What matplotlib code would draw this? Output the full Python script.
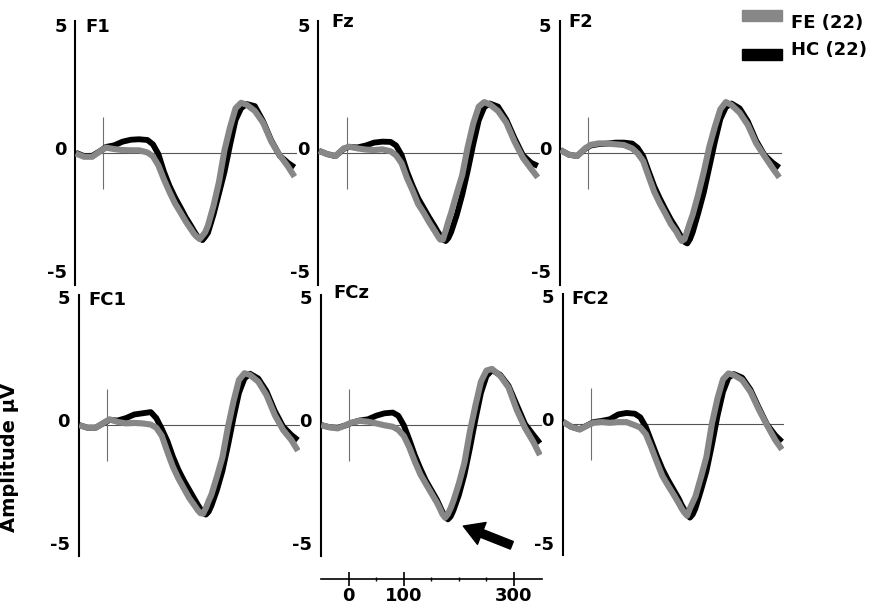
import matplotlib
matplotlib.use("Agg")
import matplotlib.pyplot as plt
from matplotlib.patches import Rectangle

plt.rcParams["font.family"] = ["DejaVu Sans"]
plt.rcParams["font.weight"] = "bold"

# ----------------------------
# DATA (amplitude in uV)
# ----------------------------
time_ms = [-50, -35, -20, -5, 5, 20, 35, 50, 65, 80, 90, 100, 110, 120, 130, 140, 150, 160,
           165, 170, 175, 180, 185, 190, 200, 210, 220, 230, 240, 250, 260, 275, 290, 305,
           320, 335, 347]

fe_f1 = [-0.03, -0.17, -0.17, 0.07, 0.21, 0.15, 0.11, 0.1, 0.1, 0.01, -0.15, -0.53, -1.11,
         -1.63, -2.11, -2.49, -2.88, -3.22, -3.39, -3.51, -3.6, -3.46, -3.31, -3.03, -2.21,
         -1.21, 0.11, 1.06, 1.85, 2.08, 2.0, 1.74, 1.25, 0.46, -0.1, -0.57, -1.0]
hc_f1 = [0.0, -0.14, -0.13, 0.08, 0.24, 0.31, 0.46, 0.54, 0.56, 0.53, 0.35, -0.06, -0.79,
         -1.38, -1.86, -2.28, -2.71, -3.08, -3.28, -3.46, -3.58, -3.64, -3.5, -3.33, -2.58,
         -1.69, -0.79, 0.32, 1.36, 1.85, 2.03, 1.94, 1.31, 0.5, -0.12, -0.42, -0.61]

fe_fz = [0.08, -0.06, -0.14, 0.18, 0.25, 0.18, 0.13, 0.11, 0.14, 0.06, -0.11, -0.44, -1.07,
         -1.58, -2.14, -2.5, -2.9, -3.26, -3.45, -3.62, -3.62, -3.25, -2.85, -2.5, -1.7,
         -0.93, 0.24, 1.22, 1.92, 2.11, 2.01, 1.74, 1.25, 0.46, -0.21, -0.67, -1.03]
hc_fz = [0.08, -0.06, -0.14, 0.16, 0.24, 0.22, 0.3, 0.42, 0.46, 0.45, 0.3, -0.1, -0.8,
         -1.38, -1.9, -2.3, -2.7, -3.07, -3.27, -3.45, -3.62, -3.68, -3.55, -3.3, -2.6,
         -1.75, -0.75, 0.35, 1.35, 1.9, 2.05, 1.92, 1.38, 0.6, -0.1, -0.42, -0.55]

fe_f2 = [0.11, -0.08, -0.14, 0.19, 0.33, 0.39, 0.38, 0.35, 0.32, 0.18, -0.03, -0.35, -1.0,
         -1.63, -2.11, -2.53, -2.97, -3.29, -3.5, -3.68, -3.6, -3.25, -2.9, -2.57, -1.72,
         -0.79, 0.25, 1.08, 1.81, 2.11, 1.99, 1.67, 1.15, 0.39, -0.14, -0.65, -1.03]
hc_f2 = [0.11, -0.08, -0.14, 0.17, 0.3, 0.36, 0.38, 0.42, 0.42, 0.38, 0.2, -0.15, -0.78,
         -1.4, -1.9, -2.35, -2.78, -3.15, -3.35, -3.55, -3.72, -3.78, -3.6, -3.3, -2.5,
         -1.65, -0.6, 0.45, 1.4, 1.9, 2.05, 1.85, 1.3, 0.5, -0.1, -0.42, -0.62]

fe_fc1 = [0.01, -0.1, -0.1, 0.11, 0.25, 0.14, 0.08, 0.1, 0.08, 0.03, -0.1, -0.44, -1.1,
          -1.72, -2.21, -2.63, -3.04, -3.36, -3.53, -3.66, -3.68, -3.45, -3.15, -2.89, -2.14,
          -1.33, -0.08, 0.99, 1.89, 2.17, 2.1, 1.82, 1.26, 0.43, -0.19, -0.61, -1.06]
hc_fc1 = [0.01, -0.1, -0.1, 0.1, 0.22, 0.2, 0.3, 0.45, 0.5, 0.55, 0.3, -0.15, -0.65,
          -1.3, -1.85, -2.3, -2.7, -3.1, -3.3, -3.48, -3.65, -3.72, -3.6, -3.35, -2.7,
          -1.9, -0.85, 0.3, 1.35, 1.95, 2.15, 1.95, 1.42, 0.6, -0.05, -0.4, -0.62]

fe_fcz = [0.01, -0.08, -0.13, 0.01, 0.11, 0.19, 0.15, 0.08, 0.0, -0.06, -0.19, -0.44, -0.92,
          -1.51, -2.04, -2.44, -2.83, -3.22, -3.45, -3.7, -3.85, -3.7, -3.45, -3.15, -2.42,
          -1.56, -0.25, 0.83, 1.82, 2.28, 2.35, 2.06, 1.58, 0.64, -0.11, -0.69, -1.24]
hc_fcz = [0.01, -0.08, -0.1, 0.0, 0.1, 0.2, 0.25, 0.4, 0.5, 0.53, 0.4, 0.0, -0.6,
          -1.25, -1.8, -2.3, -2.7, -3.1, -3.35, -3.6, -3.8, -3.92, -3.8, -3.55, -2.9,
          -2.05, -0.95, 0.25, 1.35, 2.05, 2.3, 2.1, 1.65, 0.85, 0.05, -0.4, -0.75]

fe_fc2 = [0.11, -0.1, -0.21, -0.03, 0.07, 0.1, 0.07, 0.1, 0.1, -0.03, -0.13, -0.4, -0.96,
          -1.56, -2.14, -2.53, -2.9, -3.29, -3.5, -3.67, -3.8, -3.5, -3.25, -3.0, -2.2,
          -1.35, 0.04, 1.08, 1.88, 2.13, 2.06, 1.85, 1.36, 0.63, -0.03, -0.65, -1.04]
hc_fc2 = [0.11, -0.1, -0.2, -0.02, 0.1, 0.15, 0.22, 0.42, 0.48, 0.45, 0.3, -0.1, -0.7,
          -1.3, -1.85, -2.3, -2.7, -3.1, -3.35, -3.55, -3.75, -3.88, -3.75, -3.5, -2.75,
          -1.95, -0.85, 0.35, 1.35, 1.95, 2.1, 1.95, 1.45, 0.7, 0.0, -0.45, -0.72]

electrodes    = ["F1", "Fz", "F2", "FC1", "FCz", "FC2"]
fe_curves     = [fe_f1, fe_fz, fe_f2, fe_fc1, fe_fcz, fe_fc2]
hc_curves     = [hc_f1, hc_fz, hc_f2, hc_fc1, hc_fcz, hc_fc2]
amp_ticks     = [5, 0, -5]
time_ticks    = [0, 100, 300]
time_minor    = [50, 150, 200, 250]
legend_labels = ["FE (22)", "HC (22)"]

# ----------------------------
# LAYOUT (pixels)
# ----------------------------
W, H       = 883, 605
PX_PER_MS  = 0.551
PX_PER_UV  = 24.0
T_MIN      = -51
T_MAX      = 351
GRAY       = "#878787"
FS         = 13

fig = plt.figure(figsize=(W / 100, H / 100), dpi=100)


def add_px_axes(left, top, width, height):
    return fig.add_axes([left / W, 1 - (top + height) / H, width / W, height / H])


ax_w = (T_MAX - T_MIN) * PX_PER_MS

# left px, zero-line y px, half range (uV), title dx, title baseline below top
panel_layout = [
    (75.2, 152.7, 5.5, 9.8, 11),
    (318.4, 152.7, 5.5, 13.3, 6),
    (560.0, 152.7, 5.5, 8.3, 6),
    (78.6, 425.3, 5.45, 9.7, 10.5),
    (320.6, 425.3, 5.45, 12.7, 3.5),
    (562.6, 424.5, 5.45, 9.1, 10.5),
]
label_drop = {5: -1, 0: 2, -5: 5}

axes = []
for name, fe, hc, (left, zero_y, half, tdx, tdy) in zip(electrodes, fe_curves, hc_curves, panel_layout):
    top = zero_y - half * PX_PER_UV
    ax = add_px_axes(left, top, ax_w, 2 * half * PX_PER_UV)
    ax.set_xlim(T_MIN, T_MAX)
    ax.set_ylim(-half, half)
    for s in ["top", "right", "bottom"]:
        ax.spines[s].set_visible(False)
    ax.spines["left"].set_linewidth(1.5)
    ax.set_xticks([])
    ax.set_yticks([])
    ax.patch.set_visible(False)

    ax.axhline(0, color="#555555", lw=0.8, zorder=1)
    ax.vlines(0, -1.5, 1.5, color="#6e6e6e", lw=0.8, zorder=1)

    ax.plot(time_ms, hc, color="black", lw=4.2, solid_joinstyle="round",
            solid_capstyle="butt", zorder=2)
    ax.plot(time_ms, fe, color=GRAY, lw=4.4, solid_joinstyle="round",
            solid_capstyle="butt", zorder=3)

    for v in amp_ticks:
        ax.annotate(f"{v}", xy=(0, v), xycoords=ax.get_yaxis_transform(),
                    xytext=(-8.5, -label_drop[v]), textcoords="offset pixels",
                    ha="right", va="baseline", fontsize=FS, annotation_clip=False)

    ax.annotate(name, xy=(0, 1), xycoords="axes fraction",
                xytext=(tdx, -tdy), textcoords="offset pixels",
                ha="left", va="baseline", fontsize=FS, annotation_clip=False)
    axes.append(ax)

# arrow pointing at the FCz trough
axes[4].annotate("", xy=(208, -4.2), xytext=(296, -5.0),
                 arrowprops=dict(arrowstyle="simple,head_length=1.1,head_width=1.3,tail_width=0.45",
                                 mutation_scale=13, color="black", shrinkA=0, shrinkB=0),
                 annotation_clip=False)

# ----------------------------
# TIME AXIS (under the middle column)
# ----------------------------
ax_t = add_px_axes(320.6, 559, ax_w, 20)
ax_t.set_xlim(T_MIN, T_MAX)
for s in ["top", "right", "left"]:
    ax_t.spines[s].set_visible(False)
ax_t.spines["bottom"].set_linewidth(1.2)
ax_t.patch.set_visible(False)
ax_t.set_yticks([])
ax_t.set_xticks(time_ticks)
ax_t.set_xticks(time_minor, minor=True)
ax_t.tick_params(axis="x", which="major", direction="inout", length=10, width=1.2,
                 pad=0.5, labelsize=FS)
ax_t.tick_params(axis="x", which="minor", direction="inout", length=3, width=1)

# ----------------------------
# LEGEND + Y LABEL
# ----------------------------
legend_colors = [GRAY, "black"]
legend_box_top = [10.0, 49.3]
legend_text_base = [28, 55]
for lab, col, btop, tbase in zip(legend_labels, legend_colors, legend_box_top, legend_text_base):
    fig.patches.append(Rectangle((741.7 / W, 1 - (btop + 10.7) / H), 40.6 / W, 10.7 / H,
                                 transform=fig.transFigure, color=col))
    fig.text(791.0 / W, 1 - tbase / H, lab, ha="left", va="baseline", fontsize=FS)

fig.text(10 / W, 1 - 457 / H, "Amplitude µV", rotation=90, ha="center", va="center",
         fontsize=14)

fig.savefig("out.png", dpi=100)
